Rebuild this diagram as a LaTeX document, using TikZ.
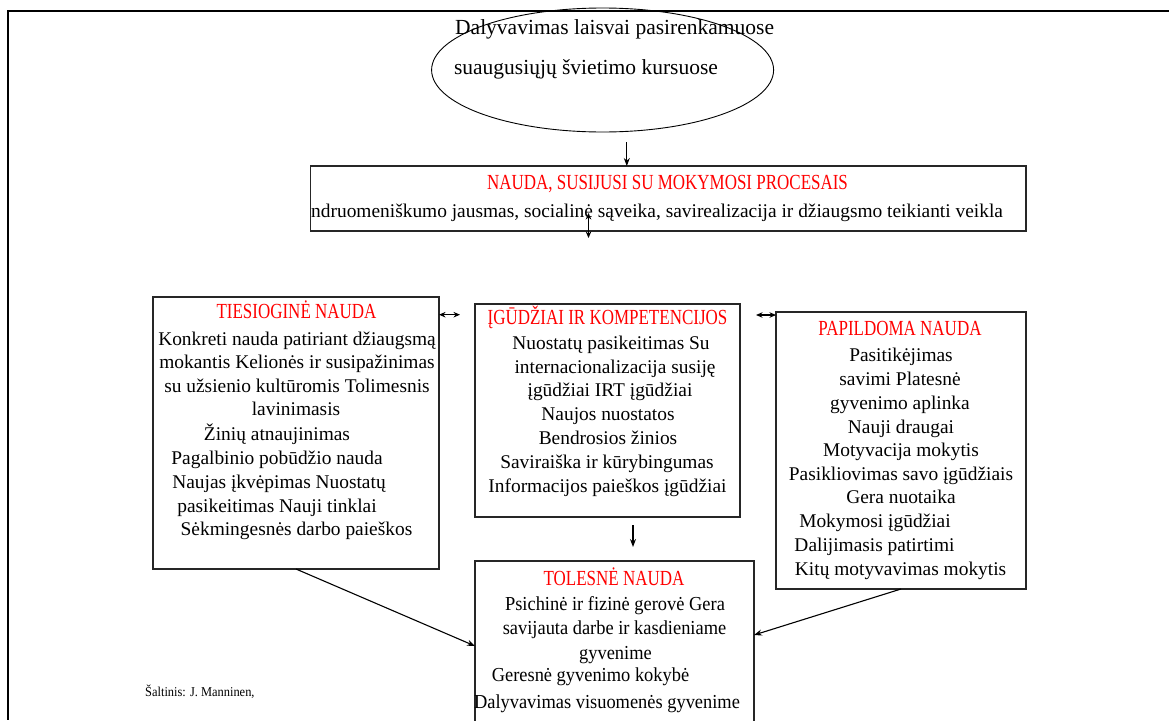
\documentclass[tikz,border=0pt]{standalone}
\usepackage{fontspec}
\setmainfont{Liberation Serif}
\newfontfamily\titlefam[FakeStretch=0.79]{Liberation Serif}
\newfontfamily\condfam[FakeStretch=0.93]{Liberation Serif}
\newfontfamily\smallfam[FakeStretch=0.92]{Liberation Serif}
\usetikzlibrary{arrows.meta,shapes.geometric}
\newcommand{\bodyfont}{\fontsize{19.4}{24}\selectfont}
\newcommand{\condfont}{\condfam\fontsize{19.8}{24}\selectfont}
\newcommand{\ellfont}{\fontsize{21.5}{26}\selectfont}
\newcommand{\ttlfont}{\titlefam\fontsize{21.5}{24}\selectfont}
\newcommand{\srcfont}{\smallfam\fontsize{13.5}{16}\selectfont}
\begin{document}
\begin{tikzpicture}[x=1pt,y=-1pt,
  box/.style={draw=black!85, line width=1.2pt, inner sep=0pt, outer sep=0pt, anchor=north west},
  ln/.style={font=\bodyfont, inner sep=0pt, anchor=base},
  cln/.style={font=\condfont, inner sep=0pt, anchor=base},
  eln/.style={font=\ellfont, inner sep=0pt, anchor=base},
  ttl/.style={font=\ttlfont, text=red, inner sep=0pt, anchor=base},
  arr/.style={-{Stealth[length=8pt,width=6pt]}, line width=1.1pt},
  darr/.style={{Stealth[length=6.5pt,width=5.5pt]}-{Stealth[length=6.5pt,width=5.5pt]}, line width=1.1pt}]
\useasboundingbox (0,0) rectangle (1169,720);
\clip (0,0) rectangle (1169,720);
% frame
\coordinate (fl) at (8,11);
\coordinate (fr) at (1169,11);
\coordinate (fb) at (8,720);
\draw[line width=2.4pt] (fr) -- (fl) -- (fb);
% ellipse
\node[draw, ellipse, line width=0.9pt, minimum width=342pt, minimum height=124pt, inner sep=0pt] (ell) at (602.6,70) {};
\node[eln] (e1) at (614.6,34) {Dalyvavimas laisvai pasirenkamuose};
\node[eln] (e2) at (586,74) {suaugusiųjų švietimo kursuose};
% NAUDA box
\node[box, minimum width=715.5pt, minimum height=65pt] (nauda) at (310.5,166) {};
\node[ttl] (nt) at (667.5,189) {NAUDA, SUSIJUSI SU MOKYMOSI PROCESAIS};
\node[font=\bodyfont, inner sep=0pt, anchor=base west] (nl) at (311,217) {ndruomeniškumo jausmas, socialinė sąveika, savirealizacija ir džiaugsmo teikianti veikla};
% TIESIOGINE box
\node[box, minimum width=286pt, minimum height=272pt] (ties) at (153,297) {};
\node[ttl] (tt) at (296.5,318.5) {TIESIOGINĖ NAUDA};
\node[ln] (t1) at (297,345) {Konkreti nauda patiriant džiaugsmą};
\node[ln] (t2) at (297,368) {mokantis Kelionės ir susipažinimas};
\node[ln] (t3) at (297,392) {su užsienio kultūromis Tolimesnis};
\node[ln] (t4) at (296,415) {lavinimasis};
\node[ln] (t5) at (277,440) {Žinių atnaujinimas};
\node[ln] (t6) at (277,464) {Pagalbinio pobūdžio nauda};
\node[ln] (t7) at (279,488) {Naujas įkvėpimas Nuostatų};
\node[ln] (t8) at (277,512) {pasikeitimas Nauji tinklai};
\node[ln] (t9) at (296.5,535) {Sėkmingesnės darbo paieškos};
% IGUDZIAI box
\node[box, minimum width=265pt, minimum height=213pt] (igud) at (475,304) {};
\node[ttl] (it) at (607.5,324) {ĮGŪDŽIAI IR KOMPETENCIJOS};
\node[ln] (i1) at (611,349) {Nuostatų pasikeitimas Su};
\node[ln] (i2) at (615,373) {internacionalizacija susiję};
\node[ln] (i3) at (610,396) {įgūdžiai IRT įgūdžiai};
\node[ln] (i4) at (608,420) {Naujos nuostatos};
\node[ln] (i5) at (608,444) {Bendrosios žinios};
\node[ln] (i6) at (607,468) {Saviraiška ir kūrybingumas};
\node[ln] (i7) at (607.5,492) {Informacijos paieškos įgūdžiai};
% PAPILDOMA box
\node[box, minimum width=250pt, minimum height=277pt] (papi) at (776,312) {};
\node[ttl] (pt) at (900,335) {PAPILDOMA NAUDA};
\node[ln] (p1) at (901,361) {Pasitikėjimas};
\node[ln] (p2) at (900,385) {savimi Platesnė};
\node[ln] (p3) at (900,409) {gyvenimo aplinka};
\node[ln] (p4) at (901,433) {Nauji draugai};
\node[ln] (p5) at (901,456) {Motyvacija mokytis};
\node[ln] (p6) at (901,480) {Pasikliovimas savo įgūdžiais};
\node[ln] (p7) at (901,503) {Gera nuotaika};
\node[ln] (p8) at (875,527) {Mokymosi įgūdžiai};
\node[ln] (p9) at (874.5,551) {Dalijimasis patirtimi};
\node[ln] (p10) at (900.6,575) {Kitų motyvavimas mokytis};
% TOLESNE box
\node[box, minimum width=279pt, minimum height=175pt] (toles) at (475,561) {};
\node[ttl] (ot) at (614,585) {TOLESNĖ NAUDA};
\node[cln] (o1) at (615,610) {Psichinė ir fizinė gerovė Gera};
\node[cln] (o2) at (614.5,634) {savijauta darbe ir kasdieniame};
\node[cln] (o3) at (615.5,659) {gyvenime};
\node[cln] (o4) at (590.5,681) {Geresnė gyvenimo kokybė};
\node[cln] (o5) at (607,708) {Dalyvavimas visuomenės gyvenime};
% source
\node[font=\srcfont, inner sep=0pt, anchor=base west] (src) at (145,696) {Šaltinis: J. Manninen,};
% connectors
\coordinate (a1) at (626.8,142);
\draw[arr] (a1) -- (a1 |- nauda.north);
\coordinate (d1a) at (588.5,213);
\coordinate (d1b) at (588.5,238);
\draw[darr] (d1a) -- (d1b);
\coordinate (d2) at (460,314.7);
\draw[darr] (ties.east |- d2) -- (d2);
\coordinate (d3) at (756,315);
\draw[darr] (d3) -- (papi.west |- d3);
\coordinate (a2a) at (633,525);
\coordinate (a2b) at (633,547);
\draw[arr] (a2a) -- (a2b);
\coordinate (s1) at (296,569);
\coordinate (s2) at (901,589);
\draw[arr] (s1) -- (toles.west |- 0,646);
\draw[arr] (s2) -- (toles.east |- 0,635);
\end{tikzpicture}
\end{document}
